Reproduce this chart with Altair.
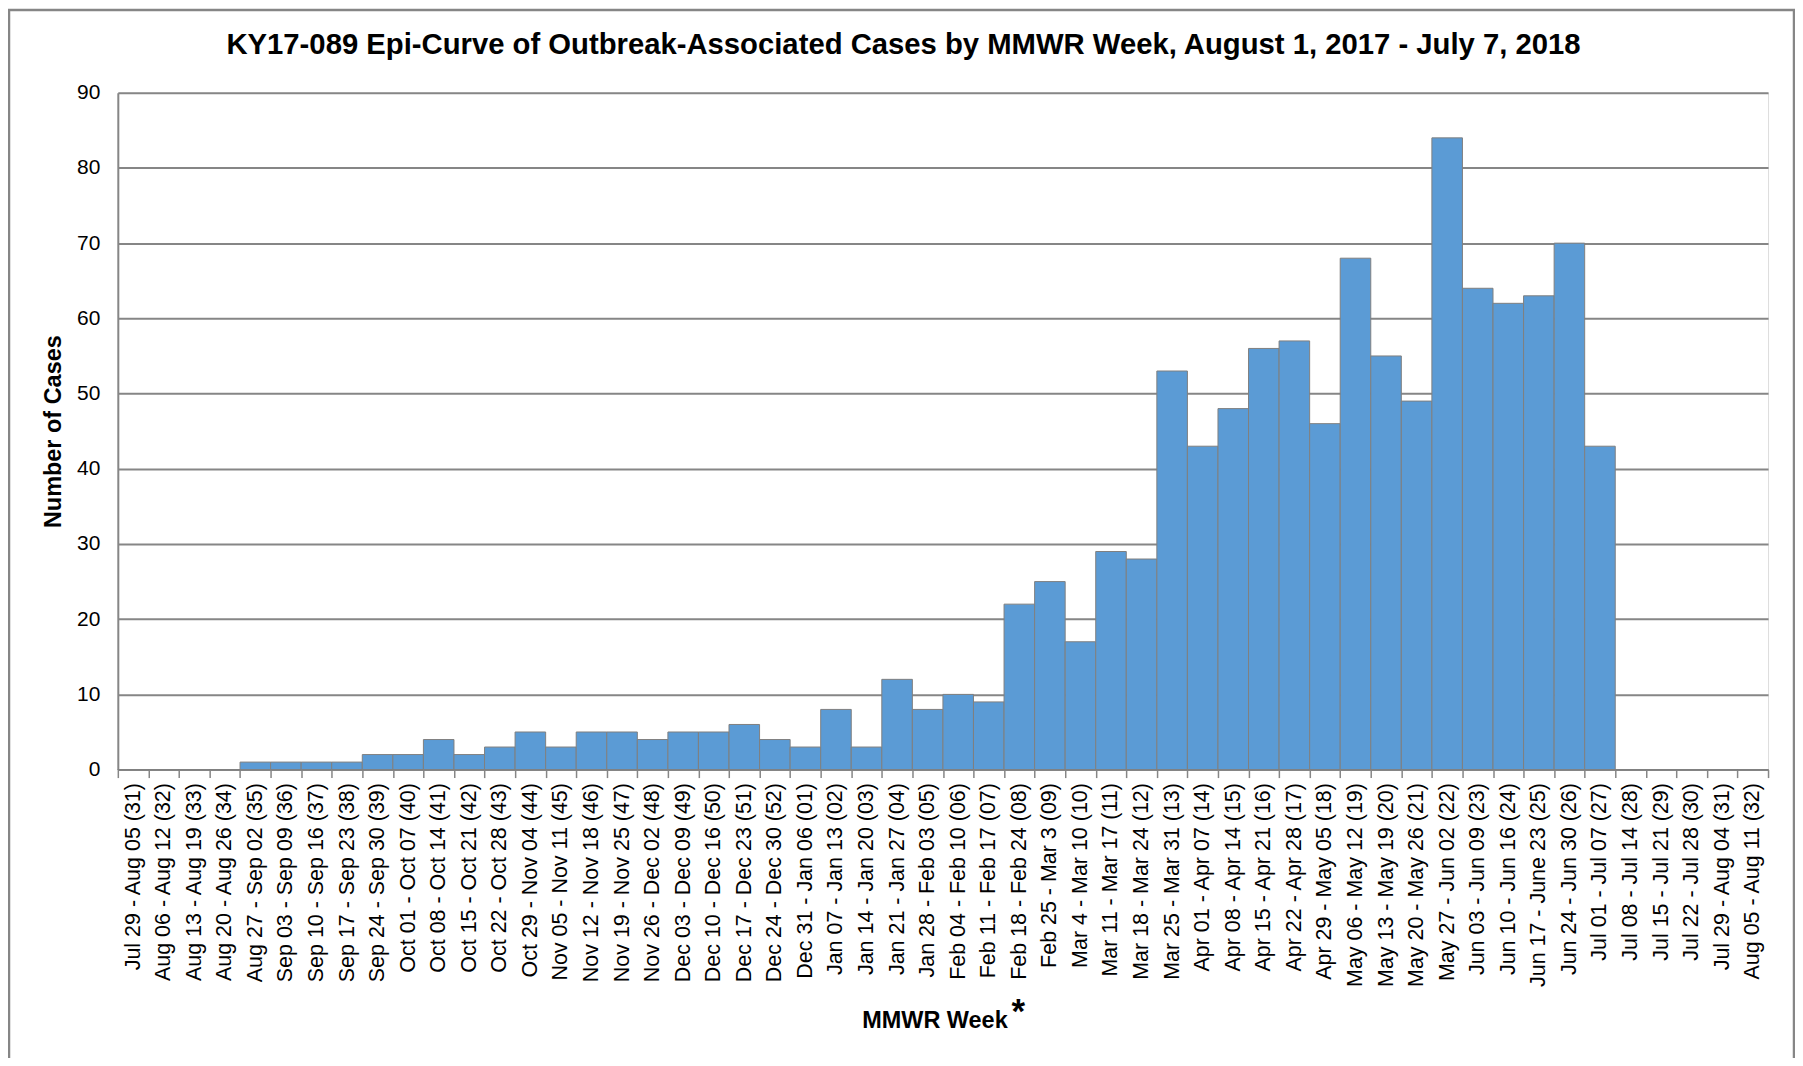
import altair as alt
import pandas as pd

weeks = [
    "Jul 29 - Aug 05 (31)", "Aug 06 - Aug 12 (32)", "Aug 13 - Aug 19 (33)", "Aug 20 - Aug 26 (34)",
    "Aug 27 - Sep 02 (35)", "Sep 03 - Sep 09 (36)", "Sep 10 - Sep 16 (37)", "Sep 17 - Sep 23 (38)",
    "Sep 24 - Sep 30 (39)", "Oct 01 - Oct 07 (40)", "Oct 08 - Oct 14 (41)", "Oct 15 - Oct 21 (42)",
    "Oct 22 - Oct 28 (43)", "Oct 29 - Nov 04 (44)", "Nov 05 - Nov 11 (45)", "Nov 12 - Nov 18 (46)",
    "Nov 19 - Nov 25 (47)", "Nov 26 - Dec 02 (48)", "Dec 03 - Dec 09 (49)", "Dec 10 - Dec 16 (50)",
    "Dec 17 - Dec 23 (51)", "Dec 24 - Dec 30 (52)", "Dec 31 - Jan 06 (01)", "Jan 07 - Jan 13 (02)",
    "Jan 14 - Jan 20 (03)", "Jan 21 - Jan 27 (04)", "Jan 28 - Feb 03 (05)", "Feb 04 - Feb 10 (06)",
    "Feb 11 - Feb 17 (07)", "Feb 18 - Feb 24 (08)", "Feb 25 - Mar 3 (09)", "Mar 4 - Mar 10 (10)",
    "Mar 11 - Mar 17 (11)", "Mar 18 - Mar 24 (12)", "Mar 25 - Mar 31 (13)", "Apr 01 - Apr 07 (14)",
    "Apr 08 - Apr 14 (15)", "Apr 15 - Apr 21 (16)", "Apr 22 - Apr 28 (17)", "Apr 29 - May 05 (18)",
    "May 06 - May 12 (19)", "May 13 - May 19 (20)", "May 20 - May 26 (21)", "May 27 - Jun 02 (22)",
    "Jun 03 - Jun 09 (23)", "Jun 10 - Jun 16 (24)", "Jun 17 - June 23 (25)", "Jun 24 - Jun 30 (26)",
    "Jul 01 - Jul 07 (27)", "Jul 08 - Jul 14 (28)", "Jul 15 - Jul 21 (29)", "Jul 22 - Jul 28 (30)",
    "Jul 29 - Aug 04 (31)", "Aug 05 - Aug 11 (32)",
]

cases = [
    0, 0, 0, 0, 1, 1, 1, 1, 2, 2, 4, 2, 3, 5, 3, 5, 5, 4, 5, 5, 6, 4,
    3, 8, 3, 12, 8, 10, 9, 22, 25, 17, 29, 28, 53, 43, 48, 56, 57, 46,
    68, 55, 49, 84, 64, 62, 63, 70, 43, 0, 0, 0, 0, 0,
]

title_text = "KY17-089 Epi-Curve of Outbreak-Associated Cases by MMWR Week, August 1, 2017 - July 7, 2018"
y_ticks = [0, 10, 20, 30, 40, 50, 60, 70, 80, 90]

W, H = 1653, 678
GRAY = "#868686"
FONT = "Liberation Sans"

df = pd.DataFrame({"week": weeks, "cases": cases})

bars = alt.Chart(df).mark_bar(
    color="#5B9BD5", stroke="#7F7F7F", strokeWidth=1
).encode(
    x=alt.X(
        "week:N", sort=None,
        scale=alt.Scale(paddingInner=0, paddingOuter=0),
        axis=alt.Axis(
            title="MMWR Week", labelAngle=-90, labelLimit=0, labelFontSize=21.5,
            labelFont=FONT, labelColor="#000000", labelPadding=5,
            tickBand="extent", tickSize=8, tickColor=GRAY, tickWidth=1.5,
            domainColor=GRAY, domainWidth=2, grid=False,
            titleFont=FONT, titleFontSize=23.5, titleFontWeight="bold", titleColor="#000000",
            titleX=818, titleY=258, titleBaseline="alphabetic", titleAlign="center",
        ),
    ),
    y=alt.Y(
        "cases:Q",
        scale=alt.Scale(domain=[0, 90], nice=False),
        axis=alt.Axis(
            title="Number of Cases", values=y_ticks, labelFontSize=21, labelFont=FONT,
            labelColor="#000000", labelPadding=18, ticks=False, tickSize=0,
            domainColor=GRAY, domainWidth=2,
            grid=True, gridColor=GRAY, gridWidth=2,
            titleFont=FONT, titleFontSize=23.5, titleFontWeight="bold", titleColor="#000000",
            titleX=-64, titleY=H / 2, titleAngle=270, titleBaseline="middle", titleAlign="center",
        ),
    ),
)

title = alt.Chart(pd.DataFrame({"t": [title_text]})).mark_text(
    font=FONT, fontSize=29.3, fontWeight="bold", color="#000000",
    align="center", baseline="alphabetic",
).encode(text="t:N", x=alt.value(787), y=alt.value(-39))

star = alt.Chart(pd.DataFrame({"t": ["*"]})).mark_text(
    font=FONT, fontSize=35, fontWeight="bold", color="#000000",
    align="center", baseline="alphabetic",
).encode(text="t:N", x=alt.value(902), y=alt.value(932))

border = alt.Chart(pd.DataFrame({"b": [0]})).mark_rect(
    fillOpacity=0, stroke=GRAY, strokeWidth=2.5
).encode(x=alt.value(-109), x2=alt.value(W + 26), y=alt.value(-83), y2=alt.value(H + 400))

chart = alt.layer(bars, title, star, border).properties(
    width=W, height=H,
    autosize=alt.AutoSizeParams(type="none"),
    padding={"left": 110, "top": 84, "right": 27, "bottom": 288},
).configure_view(stroke=GRAY, strokeWidth=2).configure(background="white")

chart.save("out.html", embed_options={"renderer": "svg", "actions": False})
